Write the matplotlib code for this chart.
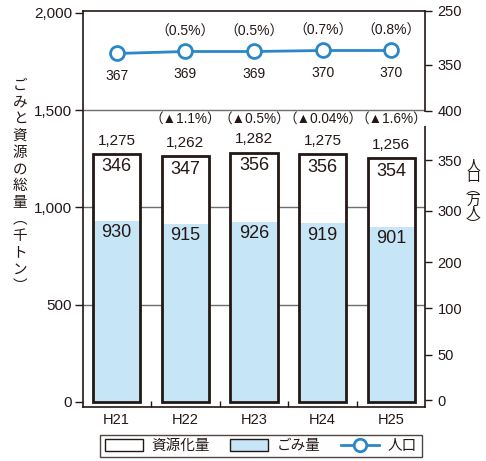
import matplotlib.pyplot as plt
from matplotlib.patches import Patch
from matplotlib.lines import Line2D

plt.rcParams['font.family'] = ['Liberation Sans', 'Noto Sans CJK JP', 'DejaVu Sans']

# データ（千トン、万人）
years = ['H21', 'H22', 'H23', 'H24', 'H25']
gomi = [930, 915, 926, 919, 901]
shigen = [346, 347, 356, 356, 354]
total_labels = ['1,275', '1,262', '1,282', '1,275', '1,256']
total_change = ['', '（▲1.1%）', '（▲0.5%）', '（▲0.04%）', '（▲1.6%）']
jinko = [367, 369, 369, 370, 370]
jinko_change = ['', '（0.5%）', '（0.5%）', '（0.7%）', '（0.8%）']

left_ticks = [0, 500, 1000, 1500, 2000]
left_labels = ['0', '500', '1,000', '1,500', '2,000']
right_labels = ['250', '350', '400', '350', '300', '200', '100', '50', '0']
right_pos = [409.5, 355.5, 309.5, 260.5, 209.5, 158.5, 112.5, 65.5, 20.5]

black = '#231815'
blue = '#c6e5f7'
line_blue = '#2b87c8'

fig = plt.figure(figsize=(4.86, 4.61), dpi=100)
ax = fig.add_axes([83/486, 1 - 407/461, 342/486, 396/461])
x = list(range(len(years)))
w = 0.69

for g in [500, 1000, 1500]:
    ax.axhline(g, color='#6e6e6e', lw=1, zorder=0)

ax.bar(x, gomi, w, color=blue, edgecolor='none', zorder=2)
ax.bar(x, shigen, w, bottom=gomi, color='white', edgecolor='none', zorder=2)
tot = [a + b for a, b in zip(gomi, shigen)]
ax.bar(x, tot, w, color='none', edgecolor=black, lw=2, zorder=3)

for i in x:
    ax.annotate(str(gomi[i]), (i, gomi[i]), xytext=(0, -8.5), textcoords='offset points',
                ha='center', va='center', fontsize=13, color=black, zorder=4)
    ax.annotate(str(shigen[i]), (i, tot[i]), xytext=(0, -9.5), textcoords='offset points',
                ha='center', va='center', fontsize=13, color=black, zorder=4)
    ax.annotate(total_labels[i], (i, tot[i]), xytext=(0, 9.5), textcoords='offset points',
                ha='center', va='center', fontsize=11, color=black, zorder=4)
    if total_change[i]:
        ax.text(i, 1455, total_change[i], ha='center', va='center', fontsize=9.8,
                color=black, zorder=4,
                bbox=dict(facecolor='white', edgecolor='none', pad=0))

ax.set_xlim(-0.49, 4.49)
ax.set_ylim(-26, 2010)
ax.set_yticks(left_ticks)
ax.set_yticklabels(left_labels, fontsize=11, color=black)
ax.tick_params(axis='y', direction='out', length=6, width=1, color=black, pad=2)
ax.set_xticks(x)
ax.set_xticklabels(years, fontsize=10.5, color=black)
ax.tick_params(axis='x', length=0, pad=4)
ax.set_xticks([0.5, 1.5, 2.5, 3.5], minor=True)
ax.tick_params(axis='x', which='minor', direction='in', length=4, width=1, color=black)
for s in ax.spines.values():
    s.set_color(black)
    s.set_linewidth(1.2)

# 人口（右軸）
ax2 = ax.twinx()
ax2.plot(x, jinko, color=line_blue, lw=2, marker='o', ms=10, mfc='white',
         mec=line_blue, mew=2, zorder=5)
for i in x:
    ax2.annotate(str(jinko[i]), (i, jinko[i]), xytext=(0, -16), textcoords='offset points',
                 ha='center', va='center', fontsize=10, color=black)
    if jinko_change[i]:
        ax2.annotate(jinko_change[i], (i, jinko[i]), xytext=(0, 14), textcoords='offset points',
                     ha='center', va='center', fontsize=10, color=black)
ax2.set_ylim(13.5, 409.5)
ax2.set_yticks(right_pos)
ax2.set_yticklabels(right_labels, fontsize=10.5, color=black)
ax2.tick_params(axis='y', direction='out', length=5, width=1, color=black, pad=4)
for s in ax2.spines.values():
    s.set_visible(False)

# 縦書きの軸ラベル
left_title = list('ごみと資源の総量') + ['︵', '千', 'ト', 'ン', '︶']
right_title = ['人', '口', '︵', '万', '人', '︶']
fig.text(20/486, 1 - 186/461, '\n'.join(left_title), ha='center', va='center',
         fontsize=10.5, color=black, linespacing=1.25)
fig.text(473/486, 1 - 195/461, '\n'.join(right_title), ha='center', va='center',
         fontsize=10, color=black, linespacing=0.8)

handles = [Patch(facecolor='white', edgecolor=black, lw=1),
           Patch(facecolor=blue, edgecolor=black, lw=1),
           Line2D([], [], color=line_blue, lw=2, marker='o', ms=9, mfc='white',
                  mec=line_blue, mew=2)]
leg = fig.legend(handles, ['資源化量', 'ごみ量', '人口'], loc='center',
                 bbox_to_anchor=(261/486, 1 - 446/461), ncol=3, fontsize=10.5,
                 frameon=True, fancybox=False, handlelength=2.6, handleheight=0.85,
                 columnspacing=1.4, handletextpad=0.6, borderpad=0.3)
leg.get_frame().set_edgecolor(black)
leg.get_frame().set_linewidth(1)
for t in leg.get_texts():
    t.set_color(black)

fig.savefig('out.png', dpi=100)
